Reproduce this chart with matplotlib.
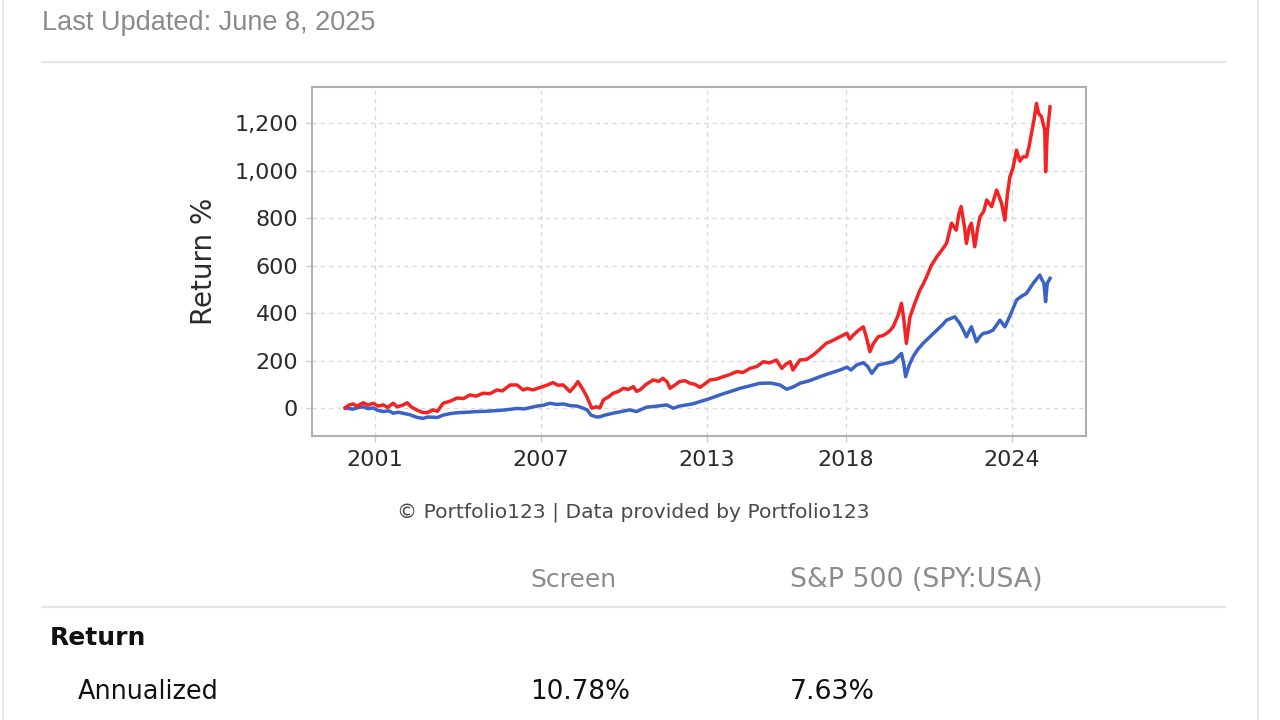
import matplotlib
matplotlib.use('Agg')
import matplotlib.pyplot as plt
from matplotlib.lines import Line2D
from matplotlib.ticker import FuncFormatter

# Screen (red) cumulative return %
red_years = [1999.92, 2000.05, 2000.2, 2000.35, 2000.57, 2000.75, 2000.93, 2001.1,
             2001.3, 2001.45, 2001.65, 2001.8, 2002.0, 2002.16, 2002.3, 2002.5,
             2002.7, 2002.88, 2003.1, 2003.25, 2003.46, 2003.7, 2003.96, 2004.2,
             2004.43, 2004.65, 2004.9, 2005.15, 2005.4, 2005.6, 2005.88, 2006.13,
             2006.35, 2006.5, 2006.7, 2006.9, 2007.07, 2007.25, 2007.43, 2007.6,
             2007.8, 2008.04, 2008.2, 2008.33, 2008.5, 2008.65, 2008.83, 2009.0,
             2009.12, 2009.25, 2009.45, 2009.6, 2009.8, 2009.97, 2010.15, 2010.33,
             2010.45, 2010.57, 2010.8, 2011.05, 2011.25, 2011.4, 2011.55, 2011.66,
             2011.85, 2012.0, 2012.2, 2012.38, 2012.55, 2012.74, 2012.9, 2013.1,
             2013.35, 2013.58, 2013.8, 2014.07, 2014.3, 2014.55, 2014.8, 2015.03,
             2015.25, 2015.5, 2015.7, 2015.85, 2016.0, 2016.1, 2016.35, 2016.6,
             2016.83, 2017.05, 2017.3, 2017.55, 2017.8, 2018.05, 2018.15, 2018.28,
             2018.45, 2018.64, 2018.75, 2018.88, 2019.0, 2019.18, 2019.35, 2019.48,
             2019.6, 2019.72, 2019.9, 2020.02, 2020.1, 2020.2, 2020.33, 2020.5,
             2020.69, 2020.8, 2020.93, 2021.1, 2021.3, 2021.45, 2021.65, 2021.75,
             2021.83, 2022.0, 2022.1, 2022.18, 2022.3, 2022.37, 2022.47, 2022.55,
             2022.67, 2022.78, 2022.86, 2023.0, 2023.1, 2023.28, 2023.46, 2023.64,
             2023.76, 2023.85, 2023.94, 2024.05, 2024.18, 2024.3, 2024.42, 2024.54,
             2024.63, 2024.72, 2024.82, 2024.9, 2024.98, 2025.08, 2025.2, 2025.23,
             2025.29, 2025.39]
red_vals = [0, 12, 17, 8, 22, 12, 20, 8,
            13, 2, 20, 5, 12, 22, 5, -8,
            -18, -20, -8, -14, 20, 28, 42, 40,
            55, 50, 62, 60, 76, 72, 97, 97,
            76, 82, 76, 84, 90, 98, 107, 96,
            97, 69, 90, 111, 80, 48, -1, 5,
            0, 34, 48, 62, 70, 83, 78, 90,
            70, 76, 100, 118, 112, 125, 110, 83,
            98, 111, 115, 104, 100, 87, 100, 118,
            122, 132, 140, 153, 150, 167, 175, 195,
            190, 202, 167, 185, 195, 160, 202, 205,
            223, 245, 272, 285, 300, 315, 290, 307,
            325, 342, 300, 237, 270, 300, 305, 314,
            325, 342, 390, 441, 380, 272, 384, 440,
            497, 520, 553, 600, 637, 660, 693, 740,
            778, 749, 820, 848, 760, 693, 760, 778,
            679, 760, 805, 830, 876, 848, 918, 862,
            791, 900, 974, 1010, 1086, 1040, 1058, 1058,
            1100, 1157, 1220, 1283, 1240, 1227, 1170, 995,
            1157, 1268]

# S&P 500 (blue)
blue_years = [1999.92, 2000.2, 2000.4, 2000.57, 2000.75, 2000.93, 2001.1, 2001.3,
              2001.5, 2001.65, 2001.85, 2002.0, 2002.25, 2002.5, 2002.73, 2002.9,
              2003.1, 2003.25, 2003.46, 2003.7, 2003.96, 2004.3, 2004.68, 2005.0,
              2005.4, 2005.7, 2006.13, 2006.4, 2006.85, 2007.1, 2007.32, 2007.55,
              2007.8, 2008.05, 2008.3, 2008.5, 2008.66, 2008.8, 2009.0, 2009.13,
              2009.3, 2009.6, 2009.9, 2010.2, 2010.45, 2010.8, 2011.2, 2011.54,
              2011.78, 2012.0, 2012.26, 2012.5, 2012.74, 2013.1, 2013.46, 2013.8,
              2014.19, 2014.5, 2014.9, 2015.3, 2015.63, 2015.87, 2016.1, 2016.35,
              2016.7, 2017.08, 2017.4, 2017.8, 2018.05, 2018.2, 2018.4, 2018.64,
              2018.8, 2018.95, 2019.18, 2019.45, 2019.72, 2019.9, 2020.02, 2020.1,
              2020.17, 2020.3, 2020.44, 2020.6, 2020.8, 2021.05, 2021.3, 2021.5,
              2021.65, 2021.95, 2022.13, 2022.25, 2022.37, 2022.45, 2022.55, 2022.73,
              2022.85, 2022.97, 2023.15, 2023.33, 2023.58, 2023.76, 2023.95, 2024.18,
              2024.35, 2024.54, 2024.78, 2025.02, 2025.1, 2025.17, 2025.23, 2025.29,
              2025.39]
blue_vals = [0, -5, 2, 5, -3, 0, -10, -15,
             -12, -22, -18, -22, -28, -39, -44, -38,
             -39, -40, -30, -24, -20, -18, -15, -14,
             -11, -8, -2, -4, 8, 12, 20, 15,
             17, 10, 8, 0, -8, -30, -38, -37,
             -30, -22, -15, -8, -15, 3, 8, 13,
             -1, 8, 13, 18, 27, 40, 55, 68,
             83, 92, 104, 105, 97, 79, 88, 104,
             115, 132, 145, 160, 172, 160, 181, 191,
             175, 146, 181, 188, 195, 215, 230, 190,
             132, 180, 216, 245, 272, 300, 328, 350,
             370, 384, 356, 330, 300, 320, 342, 279,
             300, 314, 318, 328, 370, 342, 390, 455,
             470, 483, 525, 560, 540, 525, 448, 525,
             546]

year_ticks = [2001, 2007, 2013, 2018, 2024]
value_ticks = [0, 200, 400, 600, 800, 1000, 1200]

updated_text = 'Last Updated: June 8, 2025'
credit_text = '\u00a9 Portfolio123 | Data provided by Portfolio123'
col_headers = ['Screen', 'S&P 500 (SPY:USA)']
row_group = 'Return'
row_label = 'Annualized'
row_values = ['10.78%', '7.63%']

W, H = 1280, 720


def fx(px):
    return px / W


def fy(py):
    return 1 - py / H


fig = plt.figure(figsize=(12.8, 7.2), dpi=100)
fig.patch.set_facecolor('white')

# page decorations
for x0 in (3, 1258):
    fig.add_artist(Line2D([fx(x0), fx(x0)], [0, 1], color='#e2e2e2', lw=1.2,
                          transform=fig.transFigure))
for y0 in (62, 607):
    fig.add_artist(Line2D([fx(42), fx(1225)], [fy(y0), fy(y0)], color='#e6e6e6',
                          lw=1.6, transform=fig.transFigure))

fig.text(fx(42), fy(23), updated_text, fontsize=19.5, color='#8a8a8a',
         family='Liberation Sans', ha='left', va='center')

# chart
ax = fig.add_axes([fx(312), fy(436), fx(1086) - fx(312), fy(87) - fy(436)])
ax.plot(blue_years, blue_vals, color='#3b62c6', lw=2.5, zorder=3)
ax.plot(red_years, red_vals, color='#f42323', lw=2.5, zorder=4)

ax.set_xlim(1998.72, 2026.69)
ax.set_ylim(-118, 1352)
ax.set_xticks(year_ticks)
ax.set_xticklabels([str(y) for y in year_ticks])
ax.set_yticks(value_ticks)
ax.yaxis.set_major_formatter(FuncFormatter(lambda v, p: '{:,.0f}'.format(v)))
ax.tick_params(axis='both', length=4, width=1, color='#cccccc', pad=6,
               labelsize=16, labelcolor='#2a2a2a')
ax.grid(True, color='#d9d9d9', linestyle=(0, (3, 3)), lw=1)
ax.set_axisbelow(True)
for sp in ax.spines.values():
    sp.set_color('#b0b0b0')
    sp.set_linewidth(1.5)
ax.set_ylabel('Return %', fontsize=20, color='#2a2a2a')
ax.yaxis.set_label_coords(-0.122, 0.5)

fig.text(fx(633), fy(512), credit_text, fontsize=14.6, color='#4a4a4a',
         ha='center', va='center')

# table below
fig.text(fx(530), fy(580), col_headers[0], fontsize=18, color='#8c8c8c',
         ha='left', va='center')
fig.text(fx(790), fy(580), col_headers[1], fontsize=19.3, color='#8c8c8c',
         ha='left', va='center')
fig.text(fx(50), fy(638), row_group, fontsize=18, color='#111111',
         fontweight='bold', ha='left', va='center')
fig.text(fx(78), fy(692), row_label, fontsize=18.4, color='#111111',
         ha='left', va='center')
fig.text(fx(530), fy(692), row_values[0], fontsize=18.9, color='#111111',
         ha='left', va='center')
fig.text(fx(790), fy(692), row_values[1], fontsize=19.3, color='#111111',
         ha='left', va='center')

fig.savefig('out.png', dpi=100)
